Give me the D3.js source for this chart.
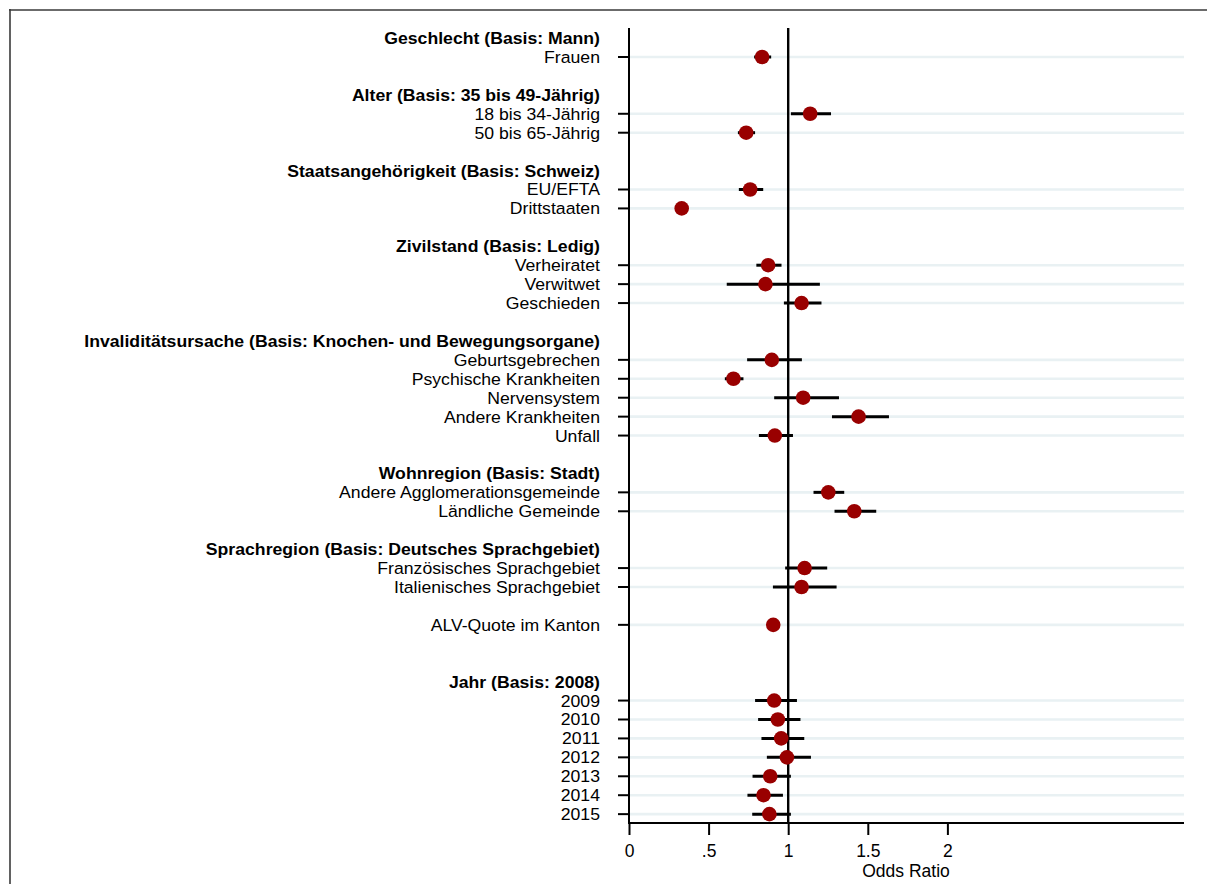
<!DOCTYPE html>
<html>
<head>
<meta charset="utf-8">
<script src="https://cdn.jsdelivr.net/npm/d3@7"></script>
<style>
  html, body { margin: 0; padding: 0; background: #fff; }
  svg { display: block; }
  text { font-family: "Liberation Sans", Arial, sans-serif; fill: #000; }
</style>
</head>
<body>
<div id="chart"></div>
<script>
// Row layout (top to bottom); empty strings are spacer rows
const rowLabels = [
  "Geschlecht (Basis: Mann)", "Frauen", "",
  "Alter (Basis: 35 bis 49-Jährig)", "18 bis 34-Jährig", "50 bis 65-Jährig", "",
  "Staatsangehörigkeit (Basis: Schweiz)", "EU/EFTA", "Drittstaaten", "",
  "Zivilstand (Basis: Ledig)", "Verheiratet", "Verwitwet", "Geschieden", "",
  "Invaliditätsursache (Basis: Knochen- und Bewegungsorgane)", "Geburtsgebrechen",
  "Psychische Krankheiten", "Nervensystem", "Andere Krankheiten", "Unfall", "",
  "Wohnregion (Basis: Stadt)", "Andere Agglomerationsgemeinde", "Ländliche Gemeinde", "",
  "Sprachregion (Basis: Deutsches Sprachgebiet)", "Französisches Sprachgebiet",
  "Italienisches Sprachgebiet", "",
  "ALV-Quote im Kanton", "", "",
  "Jahr (Basis: 2008)", "2009", "2010", "2011", "2012", "2013", "2014", "2015"
];
const headerLabels = [
  "Geschlecht (Basis: Mann)", "Alter (Basis: 35 bis 49-Jährig)",
  "Staatsangehörigkeit (Basis: Schweiz)", "Zivilstand (Basis: Ledig)",
  "Invaliditätsursache (Basis: Knochen- und Bewegungsorgane)",
  "Wohnregion (Basis: Stadt)", "Sprachregion (Basis: Deutsches Sprachgebiet)",
  "Jahr (Basis: 2008)"
];
const categories = [
  "Frauen", "18 bis 34-Jährig", "50 bis 65-Jährig", "EU/EFTA", "Drittstaaten",
  "Verheiratet", "Verwitwet", "Geschieden", "Geburtsgebrechen", "Psychische Krankheiten",
  "Nervensystem", "Andere Krankheiten", "Unfall", "Andere Agglomerationsgemeinde",
  "Ländliche Gemeinde", "Französisches Sprachgebiet", "Italienisches Sprachgebiet",
  "ALV-Quote im Kanton", "2009", "2010", "2011", "2012", "2013", "2014", "2015"
];
const oddsRatio = [0.836, 1.138, 0.736, 0.761, 0.331, 0.874, 0.857, 1.084, 0.897, 0.656,
  1.094, 1.442, 0.916, 1.252, 1.415, 1.103, 1.084, 0.906, 0.912, 0.935, 0.956, 0.992,
  0.887, 0.845, 0.882];
const ciLow = [0.786, 1.017, 0.684, 0.690, 0.315, 0.800, 0.614, 0.973, 0.742, 0.602,
  0.912, 1.275, 0.816, 1.159, 1.291, 0.981, 0.904, 0.895, 0.792, 0.811, 0.832, 0.866,
  0.776, 0.744, 0.774];
const ciHigh = [0.893, 1.269, 0.792, 0.843, 0.348, 0.958, 1.199, 1.209, 1.086, 0.719,
  1.319, 1.633, 1.030, 1.352, 1.553, 1.245, 1.304, 0.917, 1.055, 1.077, 1.101, 1.143,
  1.017, 0.967, 1.017];
const xTickValues = [0, 0.5, 1, 1.5, 2];
const xTickLabels = ["0", ".5", "1", "1.5", "2"];
const xDomain = [0, 3.48];
const refValue = 1;
const xTitle = "Odds Ratio";

const W = 1207, H = 884;
const plot = { left: 629, right: 1183, top: 28, bottom: 823 };

const svg = d3.select("#chart").append("svg").attr("width", W).attr("height", H);

// frame
svg.append("line").attr("x1", 9).attr("x2", W).attr("y1", 10).attr("y2", 10)
  .attr("stroke", "#3a3a3a").attr("stroke-width", 1.6);
svg.append("line").attr("x1", 10).attr("x2", 10).attr("y1", 9).attr("y2", H)
  .attr("stroke", "#3a3a3a").attr("stroke-width", 1.6);

const x = d3.scaleLinear().domain(xDomain).range([plot.left, plot.right]);
const y = d3.scaleLinear().domain([-0.5, rowLabels.length - 0.5])
  .range([plot.top + 0.6, plot.bottom + 0.6]);

const data = categories.map((c, i) => ({
  label: c, row: rowLabels.indexOf(c), or: oddsRatio[i], lo: ciLow[i], hi: ciHigh[i]
}));

// gridlines
svg.append("g").selectAll("line").data(data).join("line")
  .attr("x1", plot.left).attr("x2", plot.right + 1)
  .attr("y1", d => y(d.row)).attr("y2", d => y(d.row))
  .attr("stroke", "#e9f1f3").attr("stroke-width", 2.6);

// y axis line + ticks
svg.append("line").attr("x1", plot.left).attr("x2", plot.left)
  .attr("y1", plot.top).attr("y2", plot.bottom + 1)
  .attr("stroke", "#000").attr("stroke-width", 2);
svg.append("g").selectAll("line").data(data).join("line")
  .attr("x1", plot.left - 11).attr("x2", plot.left)
  .attr("y1", d => y(d.row)).attr("y2", d => y(d.row))
  .attr("stroke", "#000").attr("stroke-width", 2);

// row labels
svg.append("g").selectAll("text")
  .data(rowLabels.map((l, i) => ({ l, i })).filter(d => d.l !== ""))
  .join("text")
  .attr("transform", d => `translate(600,${y(d.i)}) scale(1.07,1)`)
  .attr("text-anchor", "end")
  .attr("dy", "0.36em")
  .attr("font-size", 16.5)
  .attr("font-weight", d => headerLabels.includes(d.l) ? "bold" : "normal")
  .text(d => d.l);

// x axis
const xAxis = d3.axisBottom(x).tickValues(xTickValues)
  .tickFormat((d, i) => xTickLabels[i]).tickSize(12).tickSizeOuter(0).tickPadding(10);
const gx = svg.append("g").attr("transform", `translate(0,${plot.bottom})`).call(xAxis);
gx.select(".domain").attr("stroke", "#000").attr("stroke-width", 2)
  .attr("d", `M${plot.left - 1},0H${plot.right + 1}`);
gx.selectAll(".tick line").attr("stroke", "#000").attr("stroke-width", 2);
gx.selectAll(".tick text").attr("font-size", 17.5)
  .attr("font-family", "Liberation Sans, Arial, sans-serif").attr("fill", "#000");

svg.append("text").attr("x", (plot.left + plot.right) / 2).attr("y", 877)
  .attr("text-anchor", "middle").attr("font-size", 17.5).text(xTitle);

// reference line
svg.append("line").attr("x1", x(refValue)).attr("x2", x(refValue))
  .attr("y1", plot.top).attr("y2", plot.bottom)
  .attr("stroke", "#000").attr("stroke-width", 2.4);

// CIs
svg.append("g").selectAll("line").data(data).join("line")
  .attr("x1", d => x(d.lo)).attr("x2", d => x(d.hi))
  .attr("y1", d => y(d.row)).attr("y2", d => y(d.row))
  .attr("stroke", "#000").attr("stroke-width", 3);

// points
svg.append("g").selectAll("circle").data(data).join("circle")
  .attr("cx", d => x(d.or)).attr("cy", d => y(d.row)).attr("r", 7.3)
  .attr("fill", "#990000");
</script>
</body>
</html>
